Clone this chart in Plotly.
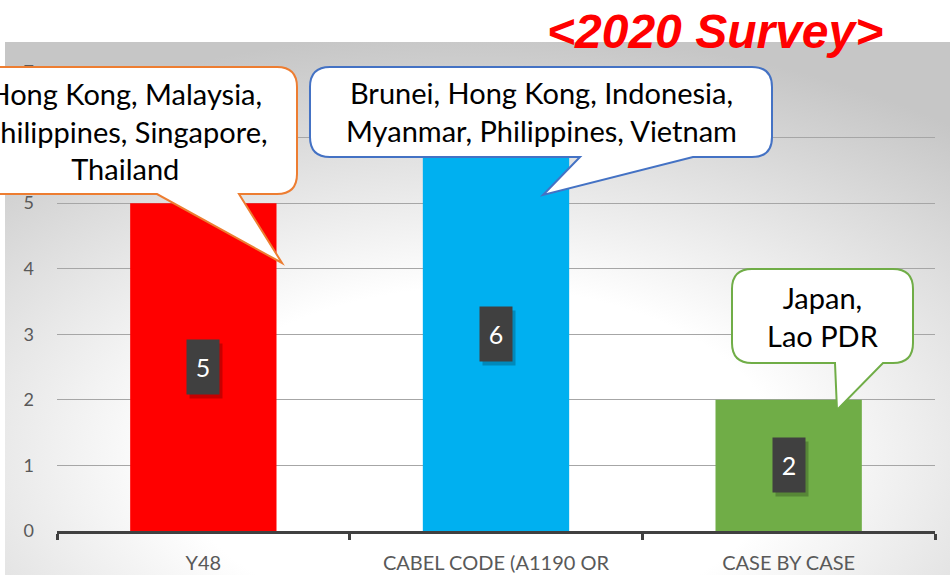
import base64

import plotly.graph_objects as go

# data
categories = ["Y48", "CABEL CODE (A1190 OR", "CASE BY CASE"]
counts = [5, 6, 2]
bar_colors = ["#FF0000", "#00B0F0", "#70AD47"]
callout_texts = [
    "Hong Kong, Malaysia,<br>Philippines, Singapore,<br>Thailand",
    "Brunei, Hong Kong, Indonesia,<br>Myanmar, Philippines, Vietnam",
    "Japan,<br>Lao PDR",
]
callout_colors = ["#ED7D31", "#4472C4", "#70AD47"]
title_text = "&lt;2020 Survey&gt;"

W, H = 950, 575
ML, MR, MT, MB = 57, 15, 72, 44


def px(x):
    return (x - ML) / (W - ML - MR)


def py(y):
    return (H - MB - y) / (H - MT - MB)


def callout_path(x0, y0, x1, y1, bx0, bx1, tx, ty, r=20):
    # rounded box with a pointer hanging off the bottom edge, pixel coords
    pts = [
        ("M", x0 + r, y0), ("L", x1 - r, y0), ("Q", x1, y0, x1, y0 + r),
        ("L", x1, y1 - r), ("Q", x1, y1, x1 - r, y1), ("L", bx1, y1),
        ("L", tx, ty), ("L", bx0, y1), ("L", x0 + r, y1),
        ("Q", x0, y1, x0, y1 - r), ("L", x0, y0 + r), ("Q", x0, y0, x0 + r, y0),
    ]
    out = []
    for p in pts:
        cmd, vals = p[0], p[1:]
        coords = []
        for i in range(0, len(vals), 2):
            coords.append(f"{px(vals[i]):.5f},{py(vals[i + 1]):.5f}")
        out.append(cmd + " ".join(coords))
    return " ".join(out) + " Z"


# callout boxes: box x0, y0, x1, y1, tail base x0, x1, tip x, y
callout_geom = [
    (-47, 67, 297, 194, 157, 239, 282, 263),
    (310, 67, 772, 157, 580, 693, 543, 195),
    (732, 269, 913, 363, 835, 883, 837, 410),
]

bg_svg = (
    '<svg xmlns="http://www.w3.org/2000/svg" width="945" height="533">'
    '<defs><radialGradient id="g" cx="0.5" cy="0.78" r="0.8">'
    '<stop offset="0" stop-color="#ffffff"/>'
    '<stop offset="0.4" stop-color="#ffffff"/>'
    '<stop offset="1" stop-color="#c6c6c6"/>'
    "</radialGradient></defs>"
    '<rect width="945" height="533" fill="url(#g)"/></svg>'
)
bg_src = "data:image/svg+xml;base64," + base64.b64encode(bg_svg.encode()).decode()

fig = go.Figure()
fig.add_trace(
    go.Bar(
        x=categories,
        y=counts,
        marker=dict(color=bar_colors, line=dict(width=0)),
        width=0.5,
        showlegend=False,
        hoverinfo="skip",
    )
)

shapes = []
annotations = []
for geom, col, txt in zip(callout_geom, callout_colors, callout_texts):
    shapes.append(
        dict(
            type="path",
            xref="paper",
            yref="paper",
            path=callout_path(*geom),
            fillcolor="white",
            line=dict(color=col, width=2),
            layer="above",
        )
    )
    annotations.append(
        dict(
            xref="paper",
            yref="paper",
            x=px((geom[0] + geom[2]) / 2),
            y=py((geom[1] + geom[3]) / 2),
            xanchor="center",
            yanchor="middle",
            text=txt,
            showarrow=False,
            align="center",
            font=dict(family="Lato", size=29, color="black"),
        )
    )

# value labels in dark boxes at the middle of each bar
for cat, val in zip(categories, counts):
    annotations.append(
        dict(
            x=cat, y=val / 2, text=" ", showarrow=False, width=30, height=52,
            bgcolor="rgba(0,0,0,0.22)", xshift=3, yshift=-4,
        )
    )
    annotations.append(
        dict(
            x=cat, y=val / 2, text=str(val), showarrow=False, width=30, height=52,
            bgcolor="#404040", font=dict(family="Lato", size=25, color="white"),
        )
    )

annotations.append(
    dict(
        xref="paper",
        yref="paper",
        x=px(715),
        y=py(31),
        xanchor="center",
        yanchor="middle",
        text=title_text,
        showarrow=False,
        font=dict(family="Liberation Sans", size=48, color="#FF0000",
                  weight=700, style="italic"),
    )
)

fig.update_layout(
    width=W,
    height=H,
    margin=dict(l=ML, r=MR, t=MT, b=MB),
    paper_bgcolor="white",
    plot_bgcolor="rgba(0,0,0,0)",
    shapes=shapes,
    annotations=annotations,
    images=[
        dict(
            source=bg_src,
            xref="paper",
            yref="paper",
            x=px(5),
            y=py(42),
            sizex=px(950) - px(5),
            sizey=py(42) - py(575),
            xanchor="left",
            yanchor="top",
            sizing="stretch",
            layer="below",
        )
    ],
    xaxis=dict(
        automargin=False,
        showline=True,
        linecolor="#404040",
        linewidth=3,
        ticks="outside",
        tickson="boundaries",
        ticklen=6,
        tickwidth=3,
        tickcolor="#404040",
        ticklabelstandoff=12,
        tickfont=dict(family="Lato", size=20, color="#595959"),
        showgrid=False,
    ),
    yaxis=dict(
        automargin=False,
        range=[0, 7],
        dtick=1,
        showline=False,
        zeroline=False,
        gridcolor="#a6a6a6",
        gridwidth=1,
        ticklabelstandoff=22,
        tickfont=dict(family="Lato", size=18, color="#595959"),
    ),
)

# the page body has a default 8px margin; drop it so the chart sits at 0,0
fig.write_html(
    "out.html",
    config={"displayModeBar": False},
    post_script="document.body.style.margin = '0';",
)
